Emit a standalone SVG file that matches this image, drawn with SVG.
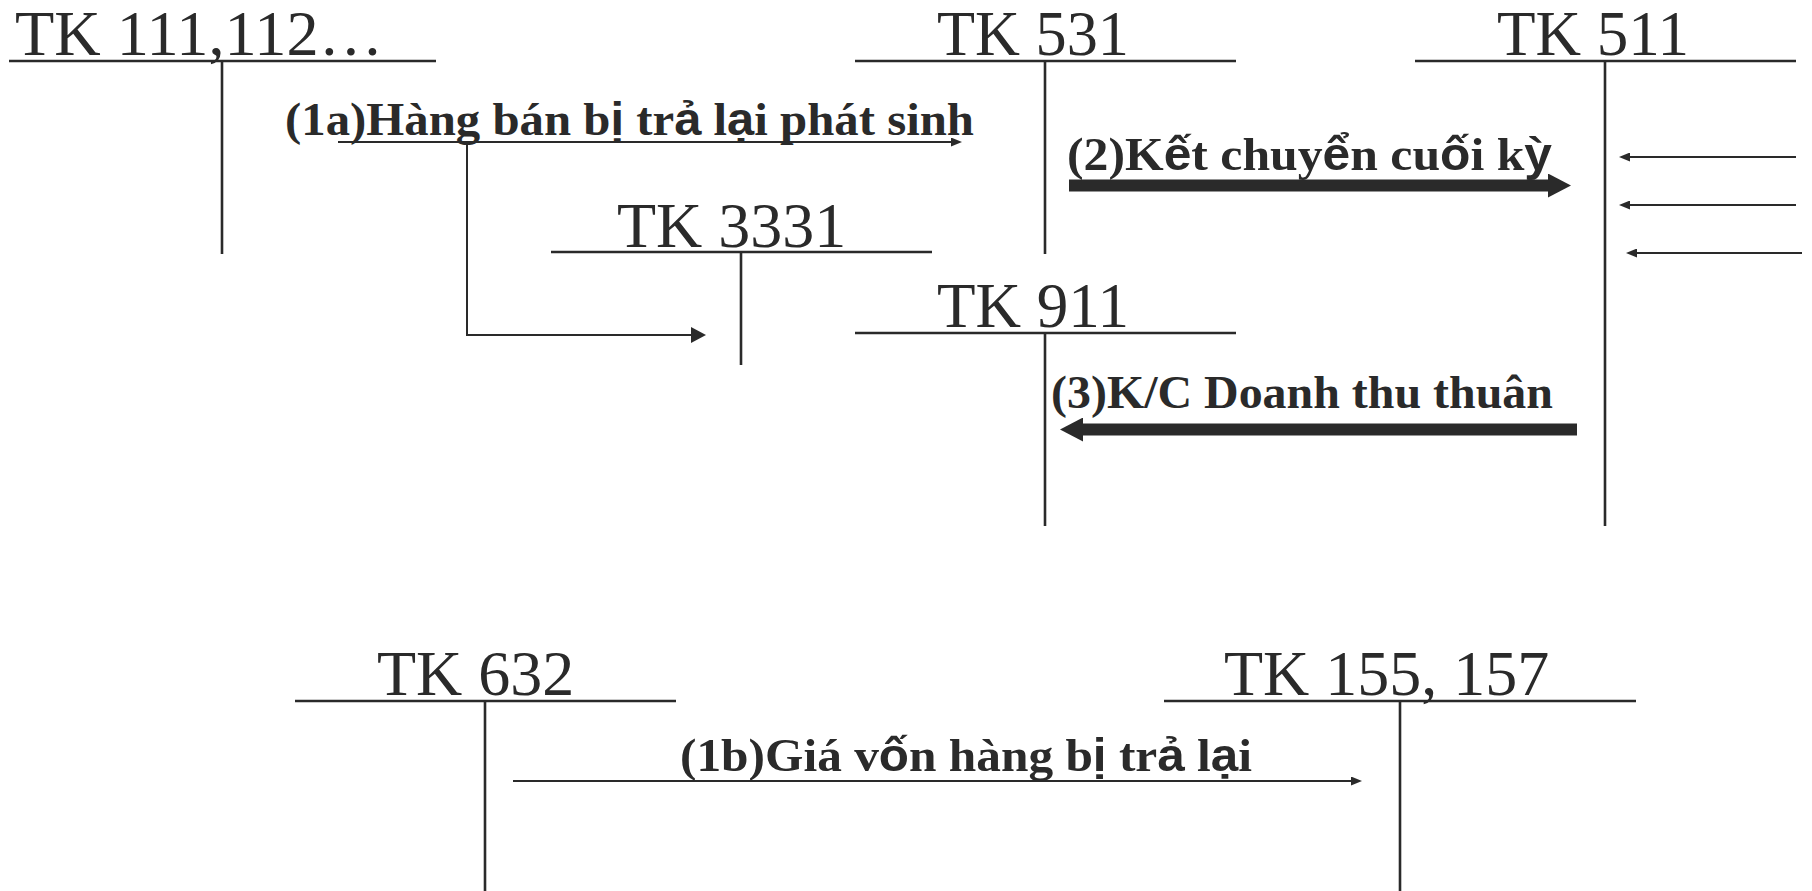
<svg xmlns="http://www.w3.org/2000/svg" width="1812" height="891" viewBox="0 0 1812 891">
  <style>
    .acct { font-family: "Liberation Serif", "Times New Roman", serif; font-size: 64px; fill: #2a2a2a; }
    .lbl { font-family: "Liberation Serif", "Times New Roman", serif; font-size: 47px; font-weight: bold; fill: #2a2a2a; }
    .vn { font-family: "Liberation Sans", Arial, sans-serif; }
    .rule { stroke: #2a2a2a; stroke-width: 2.6; fill: none; }
    .thin { stroke: #2a2a2a; stroke-width: 2; fill: none; }
    .thick { stroke: #2a2a2a; stroke-width: 12; fill: none; }
  </style>
  <defs>
    <marker id="head-s" markerUnits="userSpaceOnUse" viewBox="0 0 11 9" markerWidth="11" markerHeight="9" refX="0" refY="4.5" orient="auto">
      <path d="M0,0 L11,4.5 L0,9 z" fill="#2a2a2a"/>
    </marker>
    <marker id="head-m" markerUnits="userSpaceOnUse" viewBox="0 0 15 16" markerWidth="15" markerHeight="16" refX="0" refY="8" orient="auto">
      <path d="M0,0 L15,8 L0,16 z" fill="#2a2a2a"/>
    </marker>
    <marker id="head-l" markerUnits="userSpaceOnUse" viewBox="0 0 23 24" markerWidth="23" markerHeight="24" refX="0" refY="12" orient="auto">
      <path d="M0,0 L23,12 L0,24 z" fill="#2a2a2a"/>
    </marker>
  </defs>

  <!-- T-accounts: title, top rule, centre stem -->
  <g id="tk111">
    <text class="acct" x="15" y="55" textLength="368" lengthAdjust="spacingAndGlyphs">TK 111,112…</text>
    <line class="rule" x1="9" y1="61" x2="436" y2="61"/>
    <line class="rule" x1="222" y1="61" x2="222" y2="254"/>
  </g>
  <g id="tk531">
    <text class="acct" x="937" y="55" textLength="192" lengthAdjust="spacingAndGlyphs">TK 531</text>
    <line class="rule" x1="855" y1="61" x2="1236" y2="61"/>
    <line class="rule" x1="1045" y1="61" x2="1045" y2="254"/>
  </g>
  <g id="tk511">
    <text class="acct" x="1497" y="55" textLength="192" lengthAdjust="spacingAndGlyphs">TK 511</text>
    <line class="rule" x1="1415" y1="61" x2="1796" y2="61"/>
    <line class="rule" x1="1605" y1="61" x2="1605" y2="526"/>
  </g>
  <g id="tk3331">
    <text class="acct" x="617" y="247">TK 3331</text>
    <line class="rule" x1="551" y1="252" x2="932" y2="252"/>
    <line class="rule" x1="741" y1="252" x2="741" y2="365"/>
  </g>
  <g id="tk911">
    <text class="acct" x="937" y="327" textLength="192" lengthAdjust="spacingAndGlyphs">TK 911</text>
    <line class="rule" x1="855" y1="333" x2="1236" y2="333"/>
    <line class="rule" x1="1045" y1="333" x2="1045" y2="526"/>
  </g>
  <g id="tk632">
    <text class="acct" x="377" y="695">TK 632</text>
    <line class="rule" x1="295" y1="701" x2="676" y2="701"/>
    <line class="rule" x1="485" y1="701" x2="485" y2="891"/>
  </g>
  <g id="tk155">
    <text class="acct" x="1224" y="695">TK 155, 157</text>
    <line class="rule" x1="1164" y1="701" x2="1636" y2="701"/>
    <line class="rule" x1="1400" y1="701" x2="1400" y2="891"/>
  </g>

  <!-- Postings between accounts -->
  <g id="connectors">
    <!-- (1a) returned sales -->
    <line class="thin" x1="338" y1="142" x2="951" y2="142" marker-end="url(#head-s)"/>
    <path class="thin" d="M467,142 V335 H691" marker-end="url(#head-m)"/>
    <!-- (2) closing entry into 511 -->
    <line class="thick" x1="1069" y1="185.5" x2="1548" y2="185.5" marker-end="url(#head-l)"/>
    <!-- (3) net revenue to 911 -->
    <line class="thick" x1="1577" y1="429.5" x2="1083" y2="429.5" marker-end="url(#head-l)"/>
    <!-- incoming entries on the credit side of 511 -->
    <line class="thin" x1="1796" y1="157" x2="1630" y2="157" marker-end="url(#head-s)"/>
    <line class="thin" x1="1796" y1="205" x2="1630" y2="205" marker-end="url(#head-s)"/>
    <line class="thin" x1="1802" y1="253" x2="1637" y2="253" marker-end="url(#head-s)"/>
    <!-- (1b) cost of returned goods -->
    <line class="thin" x1="513" y1="781" x2="1351" y2="781" marker-end="url(#head-s)"/>
  </g>

  <g id="labels">
    <text class="lbl" x="285" y="135" textLength="689" lengthAdjust="spacingAndGlyphs">(1a)Hàng bán b<tspan class="vn">ị</tspan> tr<tspan class="vn">ả</tspan> l<tspan class="vn">ạ</tspan>i phát sinh</text>
    <text class="lbl" x="1067" y="170" textLength="485" lengthAdjust="spacingAndGlyphs">(2)K<tspan class="vn">ế</tspan>t chuy<tspan class="vn">ể</tspan>n cu<tspan class="vn">ố</tspan>i k<tspan class="vn">ỳ</tspan></text>
    <text class="lbl" x="1051" y="408" textLength="502" lengthAdjust="spacingAndGlyphs">(3)K/C Doanh thu thuân</text>
    <text class="lbl" x="680" y="771" textLength="572" lengthAdjust="spacingAndGlyphs">(1b)Giá v<tspan class="vn">ố</tspan>n hàng b<tspan class="vn">ị</tspan> tr<tspan class="vn">ả</tspan> l<tspan class="vn">ạ</tspan>i</text>
  </g>
</svg>
